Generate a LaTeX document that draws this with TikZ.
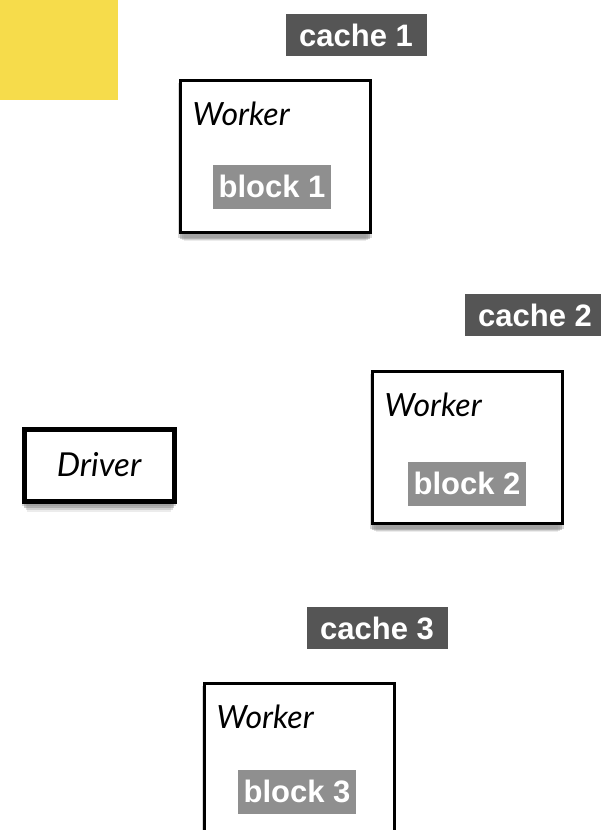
\documentclass[tikz,border=0pt]{standalone}
\usepackage{fontspec}
\setmainfont{Liberation Sans}
\newfontfamily\handfont{Lato}
\usetikzlibrary{shadows}
\definecolor{notepad}{HTML}{F6DC4B}
\definecolor{cachegray}{HTML}{555555}
\definecolor{blockgray}{HTML}{8F8F8F}

\begin{document}
\begin{tikzpicture}[x=1pt,y=-1pt]
    \tikzstyle{machine}=[draw,line width=3pt,fill=white,minimum width=190pt,minimum height=152pt,
      drop shadow={shadow xshift=0pt,shadow yshift=-13pt,shadow scale=.96,opacity=.15},
      drop shadow={shadow xshift=0pt,shadow yshift=-10pt,shadow scale=.98,opacity=.25},
      drop shadow={shadow xshift=0pt,shadow yshift=-7pt,opacity=.4},
      drop shadow={shadow xshift=0pt,shadow yshift=-4pt,shadow scale=1.02,opacity=.3}]
    \tikzstyle{drv}=[machine,line width=5pt,minimum width=150pt,minimum height=72pt]
    \tikzstyle{role}=[font=\handfont\itshape\fontsize{32}{34}\selectfont,inner sep=0pt]
    \tikzstyle{cachetag}=[fill=cachegray,text=white,font=\bfseries\fontsize{31}{33}\selectfont,
      minimum width=141pt,minimum height=42pt,inner sep=0pt]
    \tikzstyle{blocktag}=[cachetag,fill=blockgray,minimum width=118pt,minimum height=44pt]
    \useasboundingbox (0,0) rectangle (601,830);
    \clip (0,0) rectangle (601,830);
    % yellow sticky corner
    \fill[notepad] (0,0) rectangle (118,100);
    % first worker
    \node[cachetag] (cache1) at (356,35) {cache 1};
    \node[machine] (worker1) at (275,156) {};
    \node[role,anchor=base west] (role1) at ([xshift=14pt,yshift=-47pt]worker1.north west) {Worker};
    \node[blocktag] (block1) at ([xshift=-3pt,yshift=-108pt]worker1.north) {block 1};
    % second worker
    \node[cachetag] (cache2) at (535,315) {cache 2};
    \node[machine] (worker2) at (467,447) {};
    \node[role,anchor=base west] (role2) at ([xshift=14pt,yshift=-47pt]worker2.north west) {Worker};
    \node[blocktag] (block2) at ([xshift=0pt,yshift=-114pt]worker2.north) {block 2};
    % driver
    \node[drv,font=\handfont\itshape\fontsize{33}{35}\selectfont] (driver) at (99,465) {Driver};
    % third worker
    \node[cachetag] (cache3) at (377,628) {cache 3};
    \node[machine] (worker3) at (299,759) {};
    \node[role,anchor=base west] (role3) at ([xshift=14pt,yshift=-47pt]worker3.north west) {Worker};
    \node[blocktag] (block3) at ([xshift=-2pt,yshift=-110pt]worker3.north) {block 3};
  \end{tikzpicture}
\end{document}
